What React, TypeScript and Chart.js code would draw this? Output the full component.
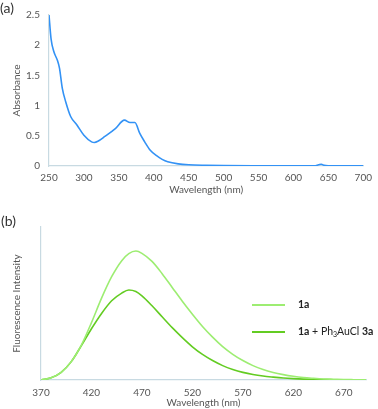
import React, { useEffect, useRef } from "react";
import { Chart, registerables } from "chart.js";

Chart.register(...registerables);

// ---------- Panel (a): absorbance ----------
const absWavelength = [250, 253, 257, 262, 265, 269, 274, 281, 290, 300, 311, 315, 320, 330, 345, 358, 366, 373, 380, 387, 395, 404, 412, 420, 435, 450, 475, 500, 550, 600, 630, 636, 640, 644, 650, 700];
const absValues = [2.5, 2.1, 1.89, 1.75, 1.62, 1.29, 1.06, 0.82, 0.68, 0.51, 0.4, 0.39, 0.41, 0.49, 0.62, 0.76, 0.72, 0.72, 0.54, 0.4, 0.26, 0.17, 0.11, 0.07, 0.035, 0.02, 0.012, 0.008, 0.005, 0.004, 0.004, 0.02, 0.03, 0.01, 0.004, 0.003];
const absXTicks = [250, 300, 350, 400, 450, 500, 550, 600, 650, 700];
const absYTicks = [0, 0.5, 1, 1.5, 2, 2.5];

// ---------- Panel (b): fluorescence ----------
const flWavelength = [370, 380, 390, 400, 410, 420, 430, 440, 450, 457, 464, 470, 480, 490, 500, 510, 520, 530, 540, 550, 560, 570, 580, 590, 600, 610, 620, 630, 640, 650, 660, 670, 680, 692];
const fl1a = [0, 0.014, 0.05, 0.12, 0.228, 0.375, 0.535, 0.675, 0.78, 0.826, 0.843, 0.828, 0.775, 0.695, 0.605, 0.515, 0.43, 0.35, 0.28, 0.218, 0.168, 0.127, 0.094, 0.068, 0.049, 0.035, 0.024, 0.016, 0.011, 0.007, 0.005, 0.003, 0.002, 0.001];
const fl1aAu = [0, 0.014, 0.05, 0.12, 0.225, 0.335, 0.435, 0.518, 0.568, 0.588, 0.578, 0.55, 0.485, 0.413, 0.342, 0.277, 0.217, 0.167, 0.127, 0.094, 0.069, 0.05, 0.036, 0.026, 0.019, 0.013, 0.009, 0.006, 0.004, 0.003, 0.002, 0.0015, 0.001, 0.001];
const flXTicks = [370, 420, 470, 520, 570, 620, 670];

const legendRow1 = [{ text: "1a", bold: true }];
const legendRow2 = [
  { text: "1a", bold: true },
  { text: " + Ph" },
  { text: "3", sub: true },
  { text: "AuCl " },
  { text: "3a", bold: true },
];

const FONT = "Lato, 'Open Sans', sans-serif";
const TEXT_COLOR = "#555555";
const AXIS_COLOR = "#c8dae2";
const BLUE = "#3392f5";
const LIGHT_GREEN = "#9ded72";
const DARK_GREEN = "#63cc22";

const legendPlugin = {
  id: "insideLegend",
  afterDraw(chart: any) {
    const ctx = chart.ctx;
    const rows = [legendRow1, legendRow2];
    const ys = [107, 134];
    ctx.save();
    rows.forEach((parts: any[], i: number) => {
      const y = ys[i];
      ctx.strokeStyle = chart.data.datasets[i].borderColor;
      ctx.lineWidth = 2;
      ctx.beginPath();
      ctx.moveTo(252, y);
      ctx.lineTo(285, y);
      ctx.stroke();
      let x = 298;
      ctx.fillStyle = "#222";
      ctx.textBaseline = "middle";
      ctx.textAlign = "left";
      parts.forEach((p: any) => {
        const size = p.sub ? 7 : 10.5;
        ctx.font = `${p.bold ? "bold " : ""}${size}px ${FONT}`;
        ctx.fillText(p.text, x, p.sub ? y + 2.5 : y);
        x += ctx.measureText(p.text).width;
      });
    });
    ctx.restore();
  },
};

function AbsorbanceChart() {
  const ref = useRef<HTMLCanvasElement | null>(null);
  useEffect(() => {
    if (!ref.current) return;
    const chart = new Chart(ref.current, {
      type: "line",
      data: {
        datasets: [
          {
            data: absWavelength.map((w, i) => ({ x: w, y: absValues[i] })),
            borderColor: BLUE,
            borderWidth: 1.6,
            pointRadius: 0,
            cubicInterpolationMode: "monotone",
            fill: false,
          },
        ],
      },
      options: {
        responsive: false,
        animation: false,
        layout: { padding: { left: 0, right: 11, top: 15, bottom: 0 } },
        plugins: { legend: { display: false }, tooltip: { enabled: false } },
        scales: {
          x: {
            type: "linear",
            min: 250,
            max: 700,
            afterBuildTicks: (s: any) => {
              s.ticks = absXTicks.map((v) => ({ value: v }));
            },
            afterFit: (s: any) => {
              s.height = 32;
            },
            grid: { display: false, drawTicks: false },
            border: { display: true, color: AXIS_COLOR, width: 1.2 },
            ticks: { color: TEXT_COLOR, font: { family: FONT, size: 10 }, padding: 6, maxRotation: 0, autoSkip: false },
            title: { display: true, text: "Wavelength (nm)", color: TEXT_COLOR, font: { family: FONT, size: 10 }, padding: { top: 0, bottom: 2 } },
          },
          y: {
            type: "linear",
            min: 0,
            max: 2.5,
            afterBuildTicks: (s: any) => {
              s.ticks = absYTicks.map((v) => ({ value: v }));
            },
            afterFit: (s: any) => {
              s.width = 49;
            },
            grid: { display: false, drawTicks: false },
            border: { display: true, color: AXIS_COLOR, width: 1.2 },
            ticks: { color: TEXT_COLOR, font: { family: FONT, size: 10 }, padding: 9, callback: (v: any) => String(v) },
            title: { display: true, text: "Absorbance", color: TEXT_COLOR, font: { family: FONT, size: 10 }, padding: { top: 11, bottom: 0 } },
          },
        },
      },
    } as any);
    return () => chart.destroy();
  }, []);
  return <canvas ref={ref} width={378} height={198} style={{ position: "absolute", left: 0, top: 0 }} />;
}

function FluorescenceChart() {
  const ref = useRef<HTMLCanvasElement | null>(null);
  useEffect(() => {
    if (!ref.current) return;
    const chart = new Chart(ref.current, {
      type: "line",
      data: {
        datasets: [
          {
            label: "1a",
            data: flWavelength.map((w, i) => ({ x: w, y: fl1a[i] })),
            borderColor: LIGHT_GREEN,
            borderWidth: 1.6,
            pointRadius: 0,
            cubicInterpolationMode: "monotone",
            fill: false,
          },
          {
            label: "1a + Ph3AuCl 3a",
            data: flWavelength.map((w, i) => ({ x: w, y: fl1aAu[i] })),
            borderColor: DARK_GREEN,
            borderWidth: 1.6,
            pointRadius: 0,
            cubicInterpolationMode: "monotone",
            fill: false,
          },
        ],
      },
      options: {
        responsive: false,
        animation: false,
        layout: { padding: { left: 0, right: 12, top: 29, bottom: 0 } },
        plugins: { legend: { display: false }, tooltip: { enabled: false } },
        scales: {
          x: {
            type: "linear",
            min: 370,
            max: 692,
            afterBuildTicks: (s: any) => {
              s.ticks = flXTicks.map((v) => ({ value: v }));
            },
            afterFit: (s: any) => {
              s.height = 29;
            },
            grid: { display: false, drawTicks: false },
            border: { display: true, color: AXIS_COLOR, width: 1.2 },
            ticks: { color: TEXT_COLOR, font: { family: FONT, size: 10 }, padding: 7, maxRotation: 0, autoSkip: false },
            title: { display: true, text: "Wavelength (nm)", color: TEXT_COLOR, font: { family: FONT, size: 10 }, padding: { top: 0, bottom: 0 } },
          },
          y: {
            type: "linear",
            min: 0,
            max: 1,
            afterFit: (s: any) => {
              s.width = 41;
            },
            grid: { display: false, drawTicks: false },
            border: { display: true, color: AXIS_COLOR, width: 1.2 },
            ticks: { display: false },
            title: { display: true, text: "Fluorescence Intensity", color: TEXT_COLOR, font: { family: FONT, size: 10 }, padding: { top: 11, bottom: 0 } },
          },
        },
      },
      plugins: [legendPlugin],
    } as any);
    return () => chart.destroy();
  }, []);
  return <canvas ref={ref} width={378} height={211} style={{ position: "absolute", left: 0, top: 198 }} />;
}

export default function App() {
  const labelStyle: React.CSSProperties = {
    position: "absolute",
    fontFamily: FONT,
    fontSize: 14,
    color: "#333",
    lineHeight: "14px",
  };
  return (
    <div style={{ position: "fixed", left: 0, top: 0, width: 378, height: 409, background: "#fff", overflow: "hidden" }}>
      <AbsorbanceChart />
      <FluorescenceChart />
      <div style={{ ...labelStyle, left: 0, top: 1 }}>(a)</div>
      <div style={{ ...labelStyle, left: 1, top: 214 }}>(b)</div>
    </div>
  );
}
